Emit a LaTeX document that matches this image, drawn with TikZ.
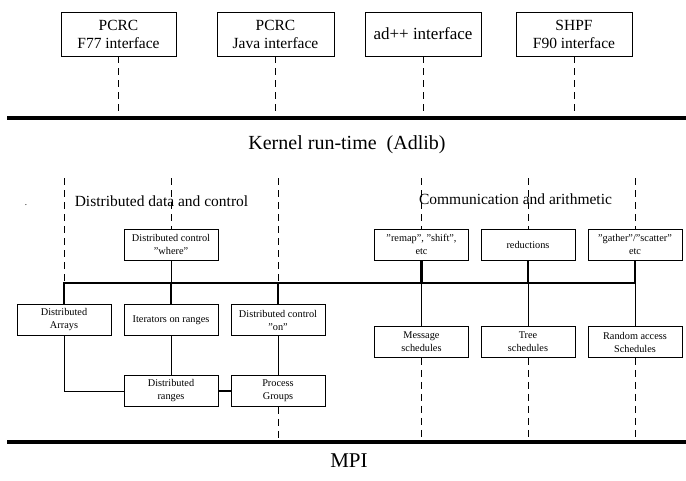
\documentclass[tikz,border=0pt]{standalone}
\usepackage{fontspec}
\setmainfont{Liberation Serif}

\tikzset{
  iface/.style={draw,line width=0.9pt,minimum width=116pt,minimum height=44pt,align=center,inner sep=0pt,font=\fontsize{15.5}{18}\selectfont},
  unit/.style={draw,line width=0.8pt,minimum width=94pt,minimum height=31pt,align=center,inner sep=0pt,font=\fontsize{10.3}{13}\selectfont},
  layer/.style={line width=3.2pt},
  bus/.style={line width=2.6pt},
  link/.style={line width=0.8pt},
  tie/.style={line width=0.7pt,dash pattern=on 7pt off 5pt},
}

\begin{document}
\begin{tikzpicture}[x=1pt,y=-1pt]
  \useasboundingbox (0,0) rectangle (686,480);

  % Interfaces
  \node[iface,minimum width=115pt] (f77) at (118.5,34) {PCRC\\F77 interface};
  \node[iface,minimum width=117pt] (java) at (275.5,34) {PCRC\\Java interface};
  \node[iface,font=\fontsize{17}{20}\selectfont] (adpp) at (423,34) {ad++ interface};
  \node[iface] (shpf) at (574,34) {SHPF\\F90 interface};

  % Kernel layer
  \coordinate (kl) at (7,118);
  \coordinate (kr) at (686,118);
  \draw[layer] (kl) -- (kr);
  \node[font=\fontsize{20}{24}\selectfont] (kernel) at (347,145) {Kernel run-time\ \ (Adlib)};
  \foreach \n in {f77,java,adpp,shpf}
    \draw[tie] (\n.south) -- (\n.south |- kl);

  % Group titles
  \node[font=\fontsize{15.5}{18}\selectfont] (ddc) at (161.5,201) {Distributed data and control};
  \node[font=\fontsize{15.5}{18}\selectfont] (comm) at (515.5,199) {Communication and arithmetic};
  \node[font=\small] (dot) at (26,205) {.};

  % Distributed data and control
  \node[unit] (where) at (171,244.5) {Distributed control\\''where''};
  \node[unit] (darr) at (64,320) {Distributed\\Arrays};
  \node[unit] (iter) at (171,320) {Iterators on ranges};
  \node[unit] (don) at (278,320) {Distributed control\\''on''};
  \node[unit] (drng) at (171,391) {Distributed\\ranges};
  \node[unit] (pgrp) at (278,391) {Process\\Groups};

  % Communication and arithmetic
  \node[unit] (remap) at (421.5,244.5) {''remap'', ''shift'',\\etc};
  \node[unit] (red) at (528,244.5) {reductions};
  \node[unit] (gath) at (635,244.5) {''gather''/''scatter''\\etc};
  \node[unit] (msg) at (421.5,342) {Message\\schedules};
  \node[unit] (tree) at (528,342) {Tree\\schedules};
  \node[unit] (rand) at (635,342) {Random access\\Schedules};

  % Bus
  \coordinate (top) at (0,178);
  \coordinate (bus) at (0,283);
  \draw[bus] (darr.north) -- (darr.north |- bus) -- (gath.south |- bus) -- (gath.south);
  \foreach \n in {iter,don}
    \draw[bus] (\n.north |- bus) -- (\n.north);
  \foreach \n in {remap,red}
    \draw[bus] (\n.south) -- (\n.south |- bus);
  \draw[link] (where) -- (where.south |- bus);
  \foreach \n/\m in {remap/msg,red/tree,gath/rand}
    \draw[link] (\n.south |- bus) -- (\m.north);

  % Dashed ties from above
  \draw[tie] (darr.north |- top) -- (darr.north |- bus);
  \draw[tie] (don.north |- top) -- (don.north |- bus);
  \foreach \n in {where,remap,red,gath}
    \draw[tie] (\n.north |- top) -- (\n.north);

  % Lower links
  \draw[link] (darr.south) |- (drng.west);
  \draw[link] (iter) -- (drng);
  \draw[link] (don) -- (pgrp);
  \draw[bus] (drng) -- (pgrp);

  % MPI layer
  \coordinate (ml) at (7,442);
  \coordinate (mr) at (686,442);
  \draw[layer] (ml) -- (mr);
  \foreach \n in {pgrp,msg,tree,rand}
    \draw[tie] (\n.south) -- (\n.south |- ml);
  \node[font=\fontsize{21}{25}\selectfont] (mpi) at (349,461) {MPI};
\end{tikzpicture}
\end{document}
